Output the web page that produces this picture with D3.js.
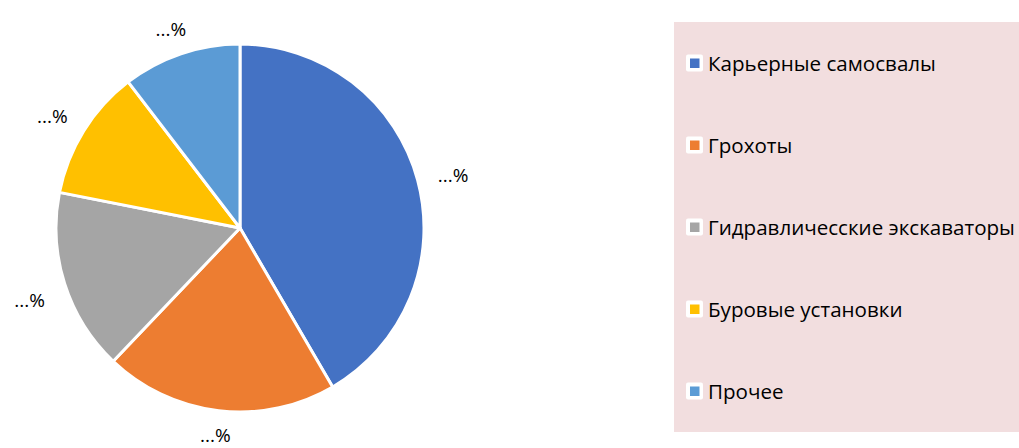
<!DOCTYPE html>
<html>
<head>
<meta charset="utf-8">
<script src="https://cdn.jsdelivr.net/npm/d3@7"></script>
<style>
  body { margin: 0; background: #fff; }
  text { font-family: "Open Sans", "Noto Sans", sans-serif; fill: #000; }
</style>
</head>
<body>
<div id="chart"></div>
<script>
// categories and shares (%)
const categories = ['Карьерные самосвалы', 'Грохоты', 'Гидравличесские экскаваторы', 'Буровые установки', 'Прочее'];
const shares = [41.6, 20.5, 16.0, 11.5, 10.4];
const labels = ['...%', '...%', '...%', '...%', '...%'];
const colors = ['#4472C4', '#ED7D31', '#A5A5A5', '#FFC000', '#5B9BD5'];

const width = 1019, height = 448;
const cx = 240, cy = 228, radius = 184;

const svg = d3.select('#chart').append('svg')
    .attr('width', width)
    .attr('height', height);

const data = categories.map((c, i) => ({ name: c, value: shares[i], label: labels[i], color: colors[i] }));

const pie = d3.pie().value(d => d.value).sort(null);
const arc = d3.arc().innerRadius(0).outerRadius(radius);
const arcs = pie(data);

const g = svg.append('g').attr('transform', `translate(${cx},${cy})`);

g.selectAll('path')
    .data(arcs)
    .join('path')
    .attr('d', arc)
    .attr('fill', d => d.data.color)
    .attr('stroke', '#fff')
    .attr('stroke-width', 3)
    .attr('stroke-linejoin', 'round');

// outside-end labels: push the text box out so its nearest edge sits a bit past the rim
const halfW = 18, halfH = 9, gap = 17;
g.selectAll('text.lbl')
    .data(arcs)
    .join('text')
    .attr('class', 'lbl')
    .attr('font-size', 19)
    .attr('text-anchor', 'middle')
    .attr('dominant-baseline', 'central')
    .attr('transform', d => {
        const a = (d.startAngle + d.endAngle) / 2;
        const s = Math.sin(a), c = Math.cos(a);
        const r = radius + gap + Math.abs(s) * halfW + Math.abs(c) * halfH;
        // keep the bottom label inside the canvas
        const y = Math.min(-c * r + 5, height - cy - 13);
        return `translate(${s * r},${y})`;
    })
    .text(d => d.data.label);

// legend box
const legend = svg.append('g');
legend.append('rect')
    .attr('x', 674).attr('y', 22)
    .attr('width', 345).attr('height', 410)
    .attr('fill', '#F2DEDF');

const rowY = d3.scalePoint().domain(categories).range([63, 391]);

const rows = legend.selectAll('g.row')
    .data(data)
    .join('g')
    .attr('class', 'row')
    .attr('transform', d => `translate(0,${rowY(d.name)})`);

rows.append('rect')
    .attr('x', 686).attr('y', -8.5)
    .attr('width', 17).attr('height', 17)
    .attr('rx', 2)
    .attr('fill', '#fff');
rows.append('rect')
    .attr('x', 690).attr('y', -4.5)
    .attr('width', 9.5).attr('height', 9.5)
    .attr('fill', d => d.color);

const texts = rows.append('text')
    .attr('x', 708)
    .attr('dominant-baseline', 'central')
    .attr('font-size', 20)
    .text(d => d.name);

// fit font size so the longest label spans to the right edge like the reference
const widest = d3.max(texts.nodes(), n => n.getComputedTextLength());
const size = 20 * 307 / widest;
texts.attr('font-size', size.toFixed(2));
</script>
</body>
</html>
